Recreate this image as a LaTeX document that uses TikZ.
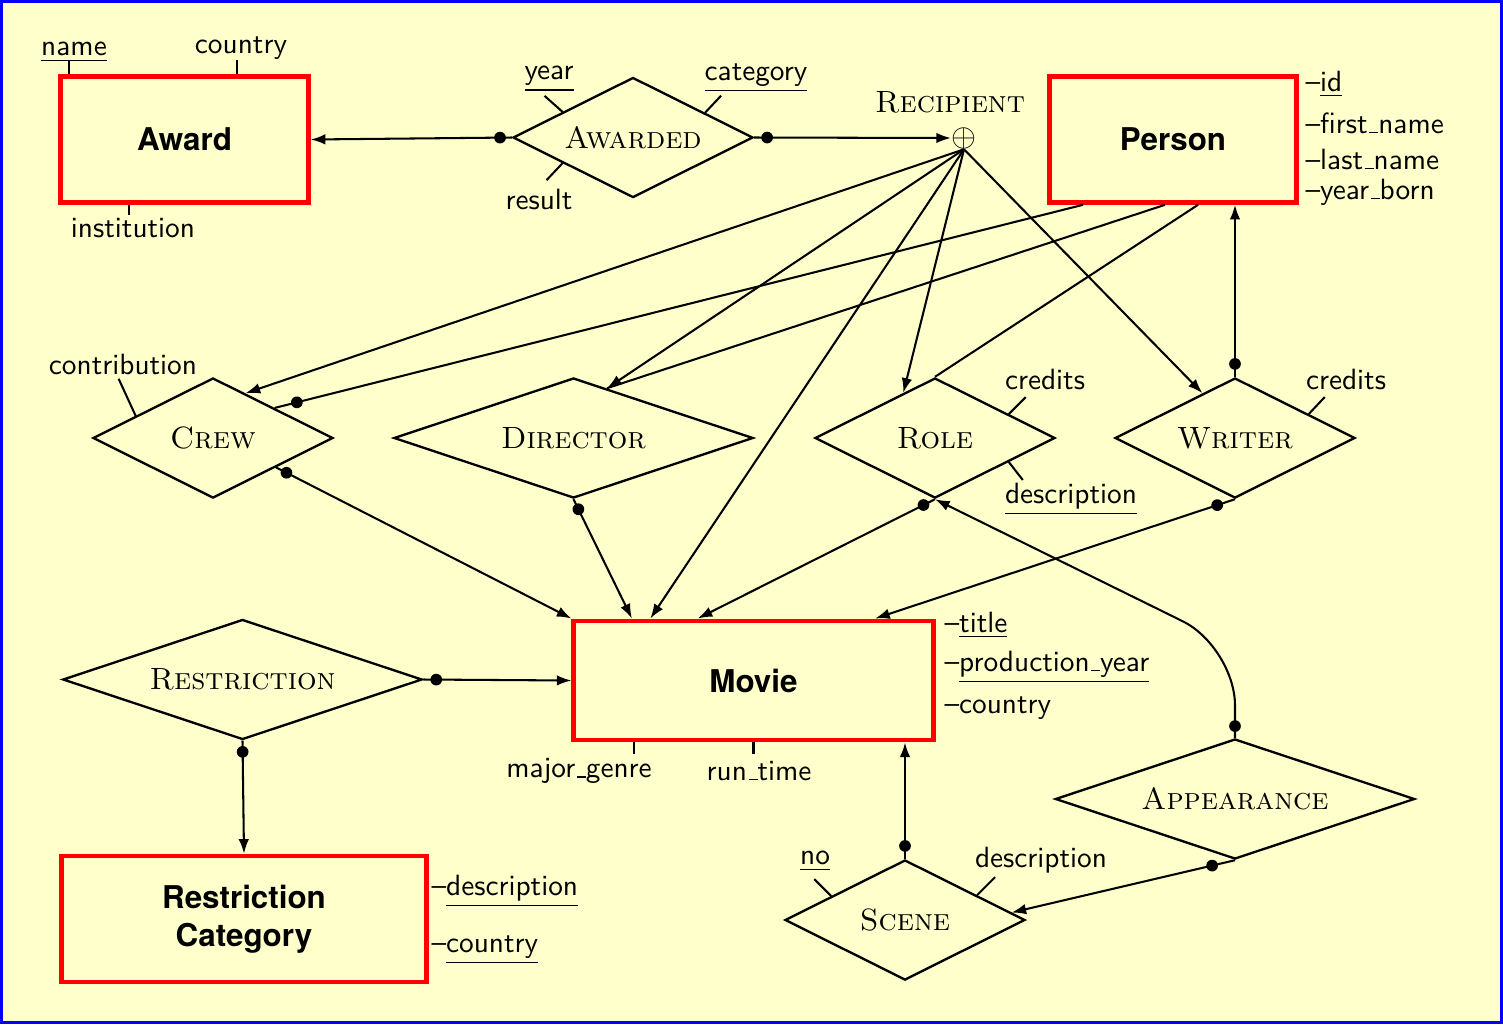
\documentclass[tikz,border=0pt]{standalone}
\usepackage{fontspec}
\newfontfamily\entfont{TeX Gyre Heros}
\usetikzlibrary{shapes.geometric,arrows.meta,decorations.markings}
\definecolor{bgyellow}{RGB}{255,255,204}
\newcommand{\usc}{\leavevmode\kern.06em\vbox{\hrule width.3em}}

\tikzset{
  entity/.style={draw=red, line width=1.6pt, fill=bgyellow, minimum width=2.97cm,
    minimum height=1.51cm, align=center, font=\entfont\bfseries\fontsize{10.7}{13}\selectfont},
  relation/.style={diamond, draw, thick, aspect=2, inner sep=0pt, fill=bgyellow,
    minimum width=2.88cm, minimum height=1.44cm, font=\fontsize{10.5}{12.6}\selectfont\scshape},
  widerel/.style={relation, aspect=3, minimum width=4.31cm},
  attr/.style={font=\sffamily, inner sep=1pt},
  conn/.style={line width=0.7pt},
  arr/.style={conn, -{Latex[length=5pt,width=3.6pt]}},
  startdot/.style={postaction={decorate, decoration={markings,
    mark=at position #1 with {\fill (0,0) circle (2pt);}}}},
  startdot/.default=4pt,
}

\begin{document}
\begin{tikzpicture}[x=0.012cm, y=-0.012cm]
 \useasboundingbox (0,0) rectangle (1503,1024);
 \draw[blue, line width=1pt, fill=bgyellow] (1.5,1.5) rectangle (1501.5,1022.5);

 % entities
 \node[entity] (award) at (184.5,139.5) {Award};
 \node[entity] (person) at (1173,139.5) {Person};
 \node[entity, minimum width=4.31cm, minimum height=1.43cm] (movie) at (753.5,680.5) {Movie};
 \node[entity, minimum width=4.37cm] (rcat) at (244,919) {Restriction\\Category};

 % relationships
 \node[relation] (awarded) at (633,137.5) {Awarded};
 \node[relation] (crew) at (213,438) {Crew};
 \node[widerel] (director) at (573.5,438) {Director};
 \node[relation] (role) at (935,438) {Role};
 \node[relation] (writer) at (1235,438) {Writer};
 \node[widerel] (restriction) at (242.5,679.5) {Restriction};
 \node[widerel] (appearance) at (1235,799) {Appearance};
 \node[relation] (scene) at (905,920) {Scene};

 \node[inner sep=0pt, font=\fontsize{11}{13}\selectfont] (rec) at (964,138) {$\oplus$};
 \node[inner sep=0pt, font=\fontsize{10.5}{12.6}\selectfont\scshape] (reclabel) at (950,102) {Recipient};

 % attributes
 \node[attr] (aname) at (74,52) {\underline{name}};
 \node[attr] (acountry) at (241,48) {country};
 \node[attr] (ainst) at (133,228) {institution};
 \draw[conn] ([xshift=-1.386cm]award.north) -- ++(0,-14);
 \draw[conn] ([xshift=0.63cm]award.north) -- ++(0,-14);
 \draw[conn] ([xshift=-0.666cm]award.south) -- ++(0,10);

 \node[attr] (ayear) at (549,79) {\underline{year}};
 \node[attr] (acat) at (756,78) {\underline{category}};
 \node[attr] (aresult) at (539,199) {result};
 \draw[conn] (awarded.160) -- ++(-18,-16);
 \draw[conn] (awarded.19) -- ++(16,-17);
 \draw[conn] (awarded.200) -- ++(-16,17);

 \node[attr, anchor=west] (pid) at (1302,84) {--\underline{id}};
 \node[attr, anchor=west] (pfirst) at (1302,123) {--first\usc name};
 \node[attr, anchor=west] (plast) at (1302,159) {--last\usc name};
 \node[attr, anchor=west] (pborn) at (1302,192) {--year\usc born};

 \node[attr] (contrib) at (123,364) {contribution};
 \draw[conn] (crew.164) -- ++(-17,-37);

 \node[attr] (rcredits) at (1045,379) {credits};
 \node[attr] (rdesc) at (1071,499) {\underline{description}};
 \draw[conn] (role.18) -- ++(17,-17);
 \draw[conn] (role.-18) -- ++(14,18);

 \node[attr] (wcredits) at (1346,379) {credits};
 \draw[conn] (writer.18) -- ++(16,-17);

 \node[attr, anchor=west] (mtitle) at (941,625) {--\underline{title}};
 \node[attr, anchor=west] (myear) at (941,667) {--\underline{production\usc year}};
 \node[attr, anchor=west] (mcountry) at (941,708) {--country};
 \node[attr] (mgenre) at (579,771) {major\usc genre};
 \node[attr] (mrun) at (759,771) {run\usc time};
 \draw[conn] ([xshift=-1.43cm]movie.south) -- ++(0,12);
 \draw[conn] (movie.south) -- ++(0,12);

 \node[attr, anchor=west] (rdescr) at (428,891) {--\underline{description}};
 \node[attr, anchor=west] (rcountry) at (428,950) {--\underline{country}};

 \node[attr] (sno) at (815,861) {\underline{no}};
 \node[attr] (sdesc) at (1041,860) {description};
 \draw[conn] (scene.162) -- ++(-17,-17);
 \draw[conn] (scene.19) -- ++(18,-18);

 % connectors
 \draw[arr, startdot] (awarded.west) -- (award.east);
 \draw[arr, startdot=4.4pt] (awarded.east) -- (rec.west);

 \draw[arr] (rec.south) -- (crew.54);
 \draw[arr] (rec.south) -- (director.56);
 \draw[arr] (rec.south) -- (movie.149);
 \draw[arr] (rec.south) -- (role.125);
 \draw[arr] (rec.south) -- (writer.126);

 \draw[conn, startdot=7.8pt] (crew.26) -- (person.216);
 \draw[conn] (director.56) -- (person.263);
 \draw[conn] (role.north) -- (person.291);
 \draw[arr, startdot=4.4pt] (writer.north) -- (writer.north |- person.south);

 \draw[arr, startdot] (crew.-25) -- (movie.north west);
 \draw[arr, startdot=3.8pt] (director.south) -- (movie.153);
 \draw[arr, startdot=4.4pt] (role.south) -- (movie.132);
 \draw[arr, startdot=6.4pt] (writer.south) -- (movie.27);
 \draw[arr, startdot=4.4pt] (restriction.east) -- (movie.west);
 \draw[arr, startdot=3.8pt] (restriction.south) -- (rcat.north);
 \draw[arr, startdot=4.4pt] (scene.north) -- (scene.north |- movie.south);
 \draw[arr, startdot=8pt] (appearance.south) -- (scene.4);

 \coordinate (bend) at (1235,647);
 \draw[arr, startdot, rounded corners=0.7cm] (appearance.north) -- (bend) -- (role.south);
\end{tikzpicture}
\end{document}
